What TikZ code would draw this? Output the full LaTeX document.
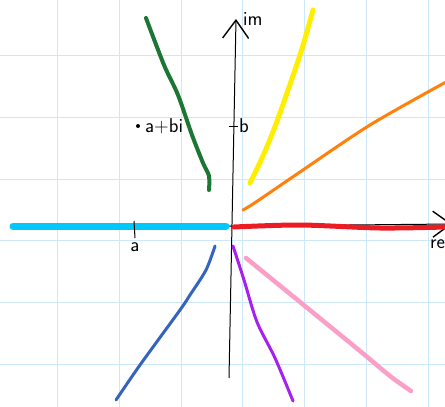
\documentclass[tikz,border=0pt]{standalone}
\usepackage{fontspec}
\usepackage{tikz}
\usetikzlibrary{arrows.meta, positioning}
\definecolor{gridblue}{RGB}{205,232,250}
\definecolor{skyline}{RGB}{0,200,250}
\definecolor{redline}{RGB}{236,28,36}
\definecolor{orangeline}{RGB}{255,128,10}
\definecolor{yellowline}{RGB}{255,238,0}
\definecolor{greenline}{RGB}{28,118,52}
\definecolor{blueline}{RGB}{52,100,190}
\definecolor{purpleline}{RGB}{168,32,240}
\definecolor{pinkline}{RGB}{250,160,200}
\tikzset{
  gridline/.style={draw=gridblue, line width=1pt},
  axis/.style={draw=black, line width=1pt, -{Straight Barb[length=18pt, width=26pt, line width=1.4pt]}},
  ray/.style={line width=#1, line cap=round, line join=round},
  ray/.default=3.5pt,
  label/.style={font=\fontsize{20}{22}\selectfont\sffamily, inner sep=1pt},
  tick/.style={draw=black, line width=1pt}
}
\begin{document}
\begin{tikzpicture}[x=1pt, y=-1pt]
  \useasboundingbox (0,0) rectangle (445,407);

  % Cuadricula
  \foreach \gx in {57,119,181,242,304,366,428}
    \draw[gridline] (\gx,0) -- (\gx,407);
  \foreach \gy in {55,117,179,240,302,364}
    \draw[gridline] (0,\gy) -- (445,\gy);

  % Ejes
  \coordinate (xstart) at (40,228);
  \coordinate (xend) at (452,224);
  \coordinate (ystart) at (229,378);
  \coordinate (yend) at (236,19);
  \draw[axis] (xstart) -- (xend);
  \draw[axis] (ystart) -- (yend);
  \node[label, anchor=south west] (im) at (242,27) {im};
  \node[label, anchor=north west] (re) at (429,238) {re};

  % Rayos de colores
  \draw[ray=7pt, skyline] (13,226) -- (226,226);
  \draw[ray=5pt, redline] plot[smooth] coordinates {(234,227) (300,225) (380,228) (446,227)};
  \draw[ray=3pt, orangeline] plot[smooth] coordinates {(243,210) (256,202) (300,172) (370,125) (446,82)};
  \draw[ray=5pt, yellowline] plot[smooth] coordinates {(250,183) (262,158) (276,124) (300,55) (313,10)};
  \draw[ray=4pt, greenline] plot[smooth] coordinates {(146,18) (164,65) (178,95) (192,135) (203,163) (209,176) (209,190)};
  \draw[ray=3pt, blueline] plot[smooth] coordinates {(215,246) (206,270) (190,295) (180,310) (140,365) (116,400)};
  \draw[ray=3pt, purpleline] plot[smooth] coordinates {(233,246) (244,280) (257,322) (275,358) (293,401)};
  \draw[ray=4.5pt, pinkline] plot[smooth] coordinates {(246,258) (300,302) (360,351) (390,376) (411,391)};

  % Marcas
  \coordinate (atick) at (134,221);
  \coordinate (abot) at (135,238);
  \draw[tick] (atick) -- (abot);
  \node[label, below=3pt of abot] (alab) {a};
  \coordinate (bleft) at (229,126);
  \coordinate (bright) at (238,126);
  \draw[tick] (bleft) -- (bright);
  \node[label, right=0pt of bright] (blab) {b};

  % Punto a+bi
  \fill (138,126) circle (2pt) coordinate (pt);
  \node[label, right=6pt of pt] (ptlab) {a+bi};
\end{tikzpicture}
\end{document}
